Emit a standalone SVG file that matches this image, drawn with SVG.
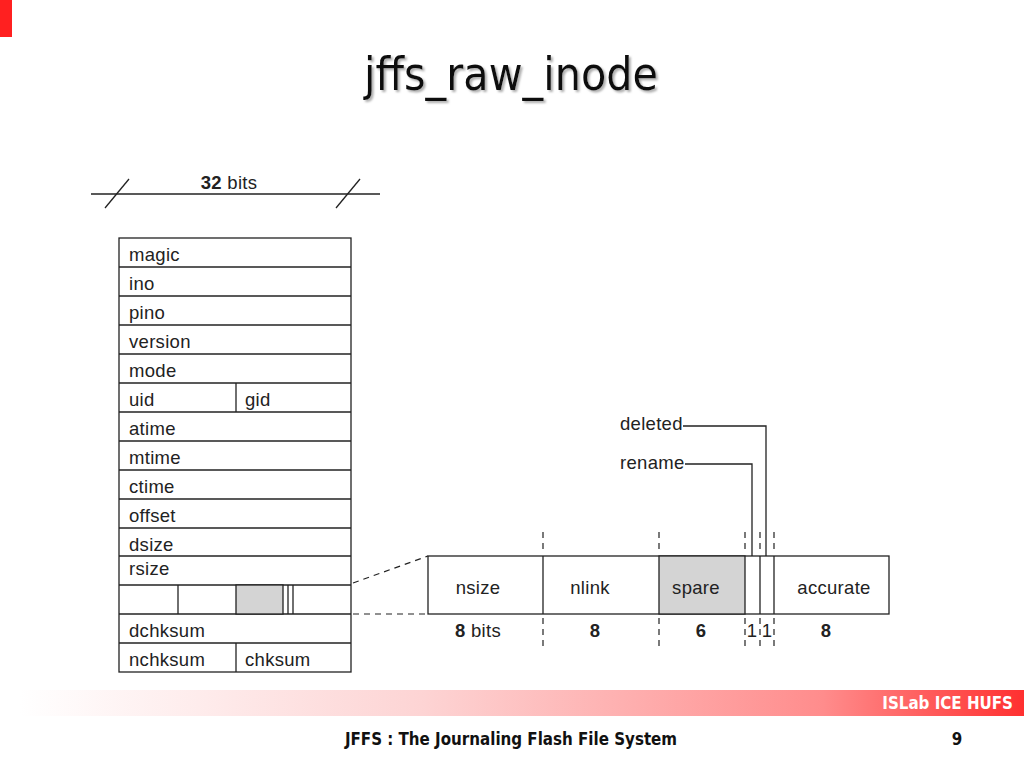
<svg xmlns="http://www.w3.org/2000/svg" width="1024" height="768" viewBox="0 0 1024 768">
<defs>
<linearGradient id="band" x1="0" y1="0" x2="1" y2="0">
<stop offset="0" stop-color="#ffffff"/>
<stop offset="0.4" stop-color="#fdd4d4"/>
<stop offset="0.8" stop-color="#ff8c8c"/>
<stop offset="1" stop-color="#ff3030"/>
</linearGradient>
<filter id="sh" x="-5%" y="-5%" width="110%" height="120%">
<feDropShadow dx="2" dy="2" stdDeviation="0.8" flood-color="#999" flood-opacity="0.8"/>
</filter>
</defs>
<style>
.ln{stroke:#222;stroke-width:1.3;fill:none}
.cell{fill:#fff;stroke:#222;stroke-width:1.3}
.gray{fill:#d4d4d4;stroke:#222;stroke-width:1.3}
.dash{stroke:#222;stroke-width:1.2;stroke-dasharray:6 5;fill:none}
.t{font-family:"Liberation Sans",Arial,sans-serif;font-size:18.5px;letter-spacing:0.3px;fill:#222}
.c{text-anchor:middle}
.b{font-weight:bold}
.ft{font-family:"DejaVu Sans Condensed","DejaVu Sans",sans-serif;font-weight:bold;font-size:16.8px}
</style>
<rect x="0" y="0" width="12" height="37" fill="#ff2020"/>
<text x="511" y="90" text-anchor="middle" font-family="DejaVu Sans Condensed,DejaVu Sans,sans-serif" font-size="46" fill="#111" filter="url(#sh)">jffs_raw_inode</text>

<g id="width-label">
<line class="ln" x1="91" y1="194" x2="380" y2="194"/>
<line class="ln" x1="105" y1="208" x2="129" y2="179"/>
<line class="ln" x1="336" y1="208" x2="360" y2="179"/>
<text class="t c" x="229" y="189"><tspan font-weight="bold">32</tspan> bits</text>
</g>

<g id="inode-table">
<rect class="cell" x="119" y="238" width="232" height="434"/>
<g class="ln">
<line x1="119" y1="267" x2="351" y2="267"/>
<line x1="119" y1="296" x2="351" y2="296"/>
<line x1="119" y1="325" x2="351" y2="325"/>
<line x1="119" y1="354" x2="351" y2="354"/>
<line x1="119" y1="383" x2="351" y2="383"/>
<line x1="119" y1="412" x2="351" y2="412"/>
<line x1="119" y1="441" x2="351" y2="441"/>
<line x1="119" y1="470" x2="351" y2="470"/>
<line x1="119" y1="499" x2="351" y2="499"/>
<line x1="119" y1="528" x2="351" y2="528"/>
<line x1="119" y1="556" x2="351" y2="556"/>
<line x1="119" y1="585" x2="351" y2="585"/>
<line x1="119" y1="614" x2="351" y2="614"/>
<line x1="119" y1="643" x2="351" y2="643"/>
<line x1="236" y1="383" x2="236" y2="412"/>
<line x1="236" y1="643" x2="236" y2="672"/>
<line x1="178" y1="585" x2="178" y2="614"/>
</g>
<rect class="gray" x="236" y="585" width="47" height="29"/>
<line class="ln" x1="288" y1="585" x2="288" y2="614"/>
<line class="ln" x1="293" y1="585" x2="293" y2="614"/>
<text class="t" x="129" y="261">magic</text>
<text class="t" x="129" y="290">ino</text>
<text class="t" x="129" y="319">pino</text>
<text class="t" x="129" y="348">version</text>
<text class="t" x="129" y="377">mode</text>
<text class="t" x="129" y="406">uid</text>
<text class="t" x="245" y="406">gid</text>
<text class="t" x="129" y="435">atime</text>
<text class="t" x="129" y="464">mtime</text>
<text class="t" x="129" y="493">ctime</text>
<text class="t" x="129" y="522">offset</text>
<text class="t" x="129" y="551">dsize</text>
<text class="t" x="129" y="575">rsize</text>
<text class="t" x="129" y="637">dchksum</text>
<text class="t" x="129" y="666">nchksum</text>
<text class="t" x="245" y="666">chksum</text>
</g>

<g id="flags-detail">
<rect class="cell" x="428" y="556" width="461" height="58"/>
<rect class="gray" x="659" y="556" width="86" height="58"/>
<g class="ln">
<line x1="543" y1="556" x2="543" y2="614"/>
<line x1="760" y1="556" x2="760" y2="614"/>
<line x1="774" y1="556" x2="774" y2="614"/>
</g>
<text class="t c" x="478" y="594">nsize</text>
<text class="t c" x="590" y="594">nlink</text>
<text class="t c" x="696" y="594">spare</text>
<text class="t c" x="834" y="594">accurate</text>
<text class="t c" x="478" y="637"><tspan font-weight="bold">8</tspan> bits</text>
<text class="t c b" x="595" y="637">8</text>
<text class="t c b" x="701" y="637">6</text>
<text class="t c" x="752" y="637">1</text>
<text class="t c" x="767" y="637">1</text>
<text class="t c b" x="826" y="637">8</text>
<text class="t" x="620" y="430">deleted</text>
<text class="t" x="620" y="469">rename</text>
</g>

<g id="connectors">
<g class="dash">
<line x1="543" y1="532" x2="543" y2="552"/>
<line x1="659" y1="532" x2="659" y2="552"/>
<line x1="745" y1="532" x2="745" y2="552"/>
<line x1="760" y1="532" x2="760" y2="552"/>
<line x1="774" y1="532" x2="774" y2="552"/>
<line x1="543" y1="618" x2="543" y2="648"/>
<line x1="659" y1="618" x2="659" y2="648"/>
<line x1="745" y1="618" x2="745" y2="648"/>
<line x1="760" y1="618" x2="760" y2="648"/>
<line x1="774" y1="618" x2="774" y2="648"/>
<line x1="353" y1="583" x2="428" y2="556"/>
<line x1="353" y1="614" x2="428" y2="614"/>
</g>
<polyline class="ln" points="683,426 766,426 766,556"/>
<polyline class="ln" points="685,464 752,464 752,556"/>
</g>

<g id="footer">
<rect x="20" y="690" width="1004" height="26" fill="url(#band)"/>
<text class="ft" x="1013" y="709" text-anchor="end" fill="#fff">ISLab ICE HUFS</text>
<text class="ft" x="511" y="745" text-anchor="middle" fill="#111">JFFS : The Journaling Flash File System</text>
<text class="ft" x="957" y="745" text-anchor="middle" fill="#111">9</text>
</g>
</svg>
